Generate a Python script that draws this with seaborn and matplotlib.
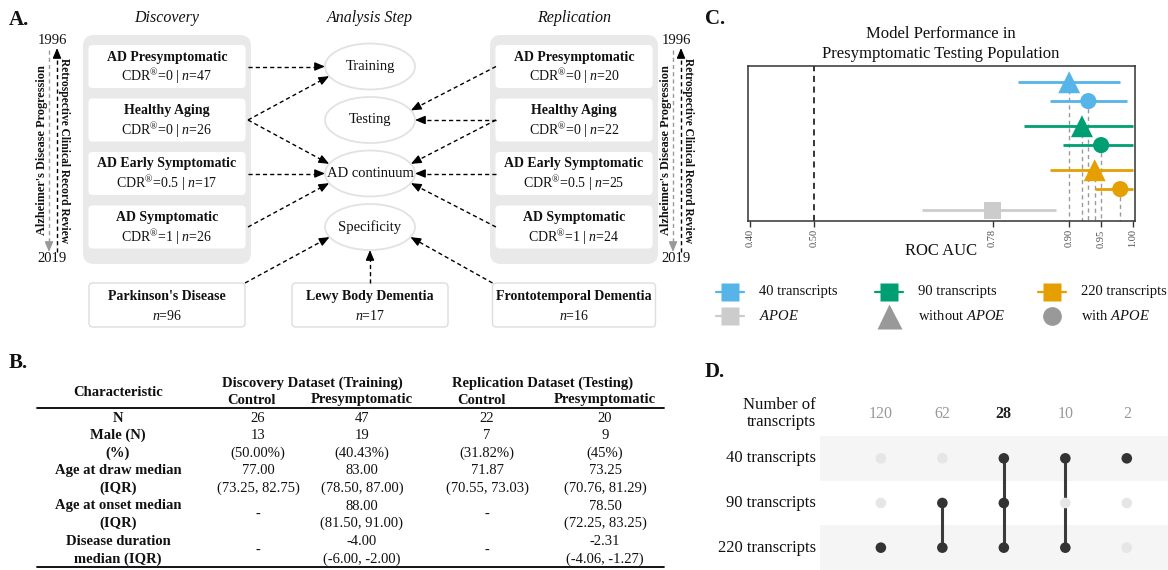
import numpy as np
import pandas as pd
import matplotlib
matplotlib.use("Agg")
import matplotlib.pyplot as plt
import seaborn as sns
from matplotlib.patches import FancyBboxPatch, Ellipse

# ---------------- data ----------------
# Panel A : study design
cohort_groups = ["AD Presymptomatic", "Healthy Aging", "AD Early Symptomatic", "AD Symptomatic"]
cohort_cdr = ["0", "0", "0.5", "1"]
discovery_n = [47, 26, 17, 26]
replication_n = [20, 22, 25, 24]
analysis_steps = ["Training", "Testing", "AD continuum", "Specificity"]
other_dementias = ["Parkinson's Disease", "Lewy Body Dementia", "Frontotemporal Dementia"]
other_n = [96, 17, 16]
timeline_years = ["1996", "2019"]
timeline_labels = ["Alzheimer's Disease Progression", "Retrospective Clinical Record Review"]
discovery_links = [(0, 0), (1, 0), (1, 2), (2, 2), (3, 2)]
replication_links = [(0, 1), (1, 1), (1, 2), (2, 2), (3, 2)]
other_links = [(0, 3), (1, 3), (2, 3)]

# Panel B : cohort table
table_groups = ["Discovery Dataset (Training)", "Replication Dataset (Testing)"]
table_subgroups = ["Control", "Presymptomatic", "Control", "Presymptomatic"]
table_characteristics = [["N"], ["Male (N)", "(%)"], ["Age at draw median", "(IQR)"],
                         ["Age at onset median", "(IQR)"], ["Disease duration", "median (IQR)"]]
col_disc_control = [["26"], ["13", "(50.00%)"], ["77.00", "(73.25, 82.75)"], ["-"], ["-"]]
col_disc_presym = [["47"], ["19", "(40.43%)"], ["83.00", "(78.50, 87.00)"],
                   ["88.00", "(81.50, 91.00)"], ["-4.00", "(-6.00, -2.00)"]]
col_repl_control = [["22"], ["7", "(31.82%)"], ["71.87", "(70.55, 73.03)"], ["-"], ["-"]]
col_repl_presym = [["20"], ["9", "(45%)"], ["73.25", "(70.76, 81.29)"],
                   ["78.50", "(72.25, 83.25)"], ["-2.31", "(-4.06, -1.27)"]]

# Panel C : model performance
model_names = ["40 transcripts", "40 transcripts", "90 transcripts", "90 transcripts",
               "220 transcripts", "220 transcripts", "APOE"]
apoe_status = ["without APOE", "with APOE", "without APOE", "with APOE",
               "without APOE", "with APOE", "APOE"]
roc_auc = [0.90, 0.93, 0.92, 0.95, 0.94, 0.98, 0.78]
roc_low = [0.82, 0.87, 0.83, 0.89, 0.87, 0.94, 0.67]
roc_high = [0.98, 0.99, 1.00, 1.00, 1.00, 1.00, 0.88]
roc_ticks = [0.40, 0.50, 0.78, 0.90, 0.95, 1.00]
chance_level = 0.50

# Panel D : transcript overlap
transcript_sets = ["40 transcripts", "90 transcripts", "220 transcripts"]
intersection_sizes = [120, 62, 28, 10, 2]
intersection_members = [["220 transcripts"],
                        ["90 transcripts", "220 transcripts"],
                        ["40 transcripts", "90 transcripts", "220 transcripts"],
                        ["40 transcripts", "220 transcripts"],
                        ["40 transcripts"]]
highlight_size = 28

# ---------------- style ----------------
sns.set_theme(style="white")
SERIF = ["Liberation Serif", "DejaVu Serif"]
plt.rcParams["font.family"] = SERIF
plt.rcParams["mathtext.fontset"] = "custom"
plt.rcParams["mathtext.rm"] = "Liberation Serif"
plt.rcParams["mathtext.it"] = "Liberation Serif:italic"
plt.rcParams["mathtext.bf"] = "Liberation Serif:bold"
plt.rcParams["text.color"] = "#111111"

model_colors = {"40 transcripts": "#56B4E9", "90 transcripts": "#009E73",
                "220 transcripts": "#E69F00", "APOE": "#CCCCCC"}
status_markers = {"without APOE": "^", "with APOE": "o", "APOE": "s"}
status_sizes = {"without APOE": 250, "with APOE": 135, "APOE": 155}
GROUP_GAP, APOE_GAP = 1.33, 1.12

fig = plt.figure(figsize=(11.68, 5.70), dpi=100)
ov = fig.add_axes([0, 0, 1, 1])
ov.set_xlim(0, 1168)
ov.set_ylim(570, 0)
ov.axis("off")


def rbox(ax, cx, cy, w, h, fc, ec="none", r=4, lw=1.0, z=1):
    ax.add_patch(FancyBboxPatch((cx - w / 2, cy - h / 2), w, h,
                                boxstyle=f"round,pad=0,rounding_size={r}",
                                fc=fc, ec=ec, lw=lw, zorder=z))


def dashed_arrow(ax, start, tip, color="black", lw=1.0, head=8):
    sx, sy = start
    tx, ty = tip
    d = np.hypot(tx - sx, ty - sy)
    ux, uy = (tx - sx) / d, (ty - sy) / d
    bx, by = tx - ux * head, ty - uy * head
    ax.plot([sx, bx], [sy, by], ls=(0, (3, 2.2)), color=color, lw=lw, zorder=3)
    ax.annotate("", xy=(tx, ty), xytext=(bx, by),
                arrowprops=dict(arrowstyle="-|>,head_length=0.6,head_width=0.25",
                                color=color, lw=lw, shrinkA=0, shrinkB=0,
                                mutation_scale=10), zorder=3)


def ellipse_tip(src, center, a, b, k=0.18):
    sx, sy = src
    cx, cy = center
    if abs(sx - cx) < 1:
        return (cx, cy + np.sign(sy - cy) * b)
    s = np.clip(k * (sy - cy) / b, -0.9, 0.9)
    return (cx + np.sign(sx - cx) * a * np.sqrt(1 - s * s), cy + b * s)


# ---------------- Panel A ----------------
ov.text(9, 20, "A.", fontsize=15, weight="bold", ha="left", va="center")
DISC_X, STEP_X, REPL_X = 167, 370, 574
row_y = [66.5 + 53.5 * i for i in range(4)]
for x, t in [(DISC_X, "Discovery"), (STEP_X, "Analysis Step"), (REPL_X, "Replication")]:
    ov.text(x, 18, t, fontsize=11.5, style="italic", ha="center", va="center")

for cx, ns in [(DISC_X, discovery_n), (REPL_X, replication_n)]:
    rbox(ov, cx, 149.5, 168, 229, "#e9e9e9", r=11)
    for i, (g, c, n) in enumerate(zip(cohort_groups, cohort_cdr, ns)):
        rbox(ov, cx, row_y[i], 157, 43, "white", r=4, z=2)
        ov.text(cx, row_y[i] - 9.5, g, fontsize=10, weight="bold", ha="center", va="center", zorder=4)
        ov.text(cx, row_y[i] + 10, f"CDR$^{{®}}$={c} | $n$={n}", fontsize=10,
                ha="center", va="center", zorder=4)

ELL_A, ELL_B = 45, 23
for i, s in enumerate(analysis_steps):
    ov.add_patch(Ellipse((STEP_X, row_y[i]), 2 * ELL_A, 2 * ELL_B, fc="white",
                         ec="#e2e2e2", lw=1.3, zorder=2))
    ov.text(STEP_X, row_y[i], s, fontsize=10.5, ha="center", va="center", zorder=4)

bottom_x = [DISC_X, STEP_X, REPL_X]
bottom_w = [156, 156, 163]
BOT_Y, BOT_H = 305, 44
for x, w, g, n in zip(bottom_x, bottom_w, other_dementias, other_n):
    rbox(ov, x, BOT_Y, w, BOT_H, "white", ec="#dddddd", r=4, lw=1.0)
    ov.text(x, BOT_Y - 8.5, g, fontsize=10, weight="bold", ha="center", va="center")
    ov.text(x, BOT_Y + 10.5, f"$n$={n}", fontsize=10, ha="center", va="center")

for src, dst in discovery_links:
    s = (248, row_y[src])
    dashed_arrow(ov, s, ellipse_tip(s, (STEP_X, row_y[dst]), ELL_A, ELL_B))
for src, dst in replication_links:
    s = (496, row_y[src])
    dashed_arrow(ov, s, ellipse_tip(s, (STEP_X, row_y[dst]), ELL_A, ELL_B))
for src, dst in other_links:
    left, right = bottom_x[src] - bottom_w[src] / 2, bottom_x[src] + bottom_w[src] / 2
    s = (float(np.clip(STEP_X, left, right)), BOT_Y - BOT_H / 2)
    dashed_arrow(ov, s, ellipse_tip(s, (STEP_X, row_y[dst]), ELL_A, ELL_B))

for bx in [42, 666]:
    ov.text(bx + 10, 41, timeline_years[0], fontsize=10.5, ha="center", va="center")
    ov.text(bx + 10, 259, timeline_years[1], fontsize=10.5, ha="center", va="center")
    dashed_arrow(ov, (bx + 7, 50), (bx + 7, 252), color="#999999")
    dashed_arrow(ov, (bx + 15, 252), (bx + 15, 48), color="black")
    ov.text(bx, 150, timeline_labels[0], rotation=90, fontsize=8.8, weight="bold",
            ha="center", va="center")
    ov.text(bx + 21.5, 150, timeline_labels[1], rotation=-90, fontsize=8.3, weight="bold",
            ha="center", va="center")

# ---------------- Panel B ----------------
ov.text(9, 363, "B.", fontsize=15, weight="bold", ha="left", va="center")
ov.plot([37, 664], [408, 408], color="black", lw=1.3)
ov.plot([37, 664], [567, 567], color="black", lw=1.3)
LABEL_X = 118
ov.text(LABEL_X, 392, "Characteristic", fontsize=10.5, weight="bold", ha="center", va="center")
for x, t in zip([312, 543], table_groups):
    ov.text(x, 383, t, fontsize=10.5, weight="bold", ha="center", va="center")
for x, t in zip([251, 362, 482, 605], table_subgroups):
    ov.text(x, 400, t, fontsize=10.5, weight="bold", ha="center", va="center")
value_x = [258, 362, 487, 605]
columns = [col_disc_control, col_disc_presym, col_repl_control, col_repl_presym]
line = 0
for k, lab in enumerate(table_characteristics):
    ys = [418 + 17.6 * (line + j) for j in range(len(lab))]
    for j, t in enumerate(lab):
        ov.text(LABEL_X, ys[j], t, fontsize=10.5, weight="bold", ha="center", va="center")
    for c, col in enumerate(columns):
        vals = col[k]
        if len(vals) == 1 and len(ys) == 2:
            ov.text(value_x[c], np.mean(ys), vals[0], fontsize=10.5, ha="center", va="center")
        else:
            for j, v in enumerate(vals):
                ov.text(value_x[c], ys[j], v, fontsize=10.5, ha="center", va="center")
    line += len(lab)

# ---------------- Panel C ----------------
ov.text(705, 19, "C.", fontsize=15, weight="bold", ha="left", va="center")
ov.text(941, 34, "Model Performance in", fontsize=12, ha="center", va="center")
ov.text(941, 54, "Presymptomatic Testing Population", fontsize=12, ha="center", va="center")

dfC = pd.DataFrame(dict(model=model_names, status=apoe_status, auc=roc_auc,
                        lo=roc_low, hi=roc_high))
pos, p = [], 0.0
for i, m in enumerate(model_names):
    if i > 0:
        p += 1.0 if m == model_names[i - 1] else (APOE_GAP if m == "APOE" else GROUP_GAP)
    pos.append(p)
dfC["pos"] = pos

axC = fig.add_axes([748 / 1168, 349 / 570, 387 / 1168, 155 / 570])
axC.set_zorder(2)
YBOT, YTOP = 7.35, -0.86
axC.axvline(chance_level, color="black", ls=(0, (4, 3)), lw=1.1, zorder=1)
trans = dfC[dfC["model"] != "APOE"]
axC.vlines(trans["auc"], trans["pos"], YBOT, colors="#9a9a9a", linestyles=(0, (3, 2.5)),
           lw=1.0, zorder=1)
axC.hlines(dfC["pos"], dfC["lo"], dfC["hi"], colors=[model_colors[m] for m in dfC["model"]],
           lw=2.0, zorder=2)
sns.scatterplot(data=dfC, x="auc", y="pos", hue="model", palette=model_colors,
                style="status", markers=status_markers, size="status", sizes=status_sizes,
                linewidth=0, legend=False, ax=axC, zorder=3)
axC.set_xlim(0.3969, 1.0031)
axC.set_ylim(YBOT, YTOP)
axC.set_yticks([])
axC.set_ylabel("")
axC.set_xticks(roc_ticks)
axC.set_xticklabels([f"{t:.2f}" for t in roc_ticks])
axC.tick_params(axis="x", bottom=True, length=4, width=1, color="#333333", direction="out",
                labelrotation=90, labelsize=7.5, labelcolor="#4d4d4d", pad=2)
for sp in axC.spines.values():
    sp.set_visible(True)
    sp.set_color("#333333")
    sp.set_linewidth(1.1)
axC.set_xlabel("ROC AUC", fontsize=12, color="#111111")
axC.xaxis.set_label_coords(0.5, -0.14)
axC.xaxis.label.set_va("top")

legend_items = [("40 transcripts", model_colors["40 transcripts"], "s", True),
                ("90 transcripts", model_colors["90 transcripts"], "s", True),
                ("220 transcripts", model_colors["220 transcripts"], "s", True),
                ("$\\mathit{APOE}$", model_colors["APOE"], "s", True),
                ("without $\\mathit{APOE}$", "#999999", "^", False),
                ("with $\\mathit{APOE}$", "#999999", "o", False)]
leg_x = [730, 889, 1052]
leg_y = [292, 316]
leg_ms = {"s": 13.5, "^": 18, "o": 13.5}
for k, (lab, col, mk, has_line) in enumerate(legend_items):
    x, y = leg_x[k % 3], leg_y[k // 3]
    if has_line:
        ov.plot([x - 14, x + 14], [y, y], color=col, lw=1.6)
    ov.plot([x], [y], marker=mk, ms=leg_ms[mk], color=col, mec="none", ls="none")
    ov.text(x + 29, y, lab, fontsize=10.5, ha="left", va="center")

# ---------------- Panel D ----------------
ov.text(705, 372, "D.", fontsize=15, weight="bold", ha="left", va="center")
axD = fig.add_axes([820 / 1168, 0, 348 / 1168, 134 / 570])
axD.set_zorder(2)
axD.axhspan(-0.5, 0.5, color="#f5f5f5", zorder=0, lw=0)
axD.axhspan(1.5, 2.5, color="#f5f5f5", zorder=0, lw=0)
rows = []
for j, mem in enumerate(intersection_members):
    for i, s in enumerate(transcript_sets):
        rows.append(dict(col=j, row=i, active=s in mem))
dfD = pd.DataFrame(rows)
for j, mem in enumerate(intersection_members):
    idx = [transcript_sets.index(m) for m in mem]
    if len(idx) > 1:
        axD.plot([j, j], [min(idx), max(idx)], color="#3b3b3b", lw=2.2, zorder=2)
sns.scatterplot(data=dfD, x="col", y="row", hue="active",
                palette={True: "#333333", False: "#e6e6e6"}, s=58, linewidth=0,
                legend=False, ax=axD, zorder=3)
axD.set_xlim(-0.99, 4.67)
axD.set_ylim(2.5, -0.5)
axD.axis("off")
for i, s in enumerate(transcript_sets):
    axD.text(-1.06, i, s, fontsize=12, ha="right", va="center", clip_on=False)
axD.text(-1.06, -1.0, "Number of\ntranscripts", fontsize=12, ha="right", va="center",
         linespacing=1.08, clip_on=False)
for j, n in enumerate(intersection_sizes):
    hl = n == highlight_size
    axD.text(j, -1.0, str(n), fontsize=11.5, ha="center", va="center", clip_on=False,
             color="#222222" if hl else "#999999", weight="bold" if hl else "normal")

fig.savefig("out.png", dpi=100)
